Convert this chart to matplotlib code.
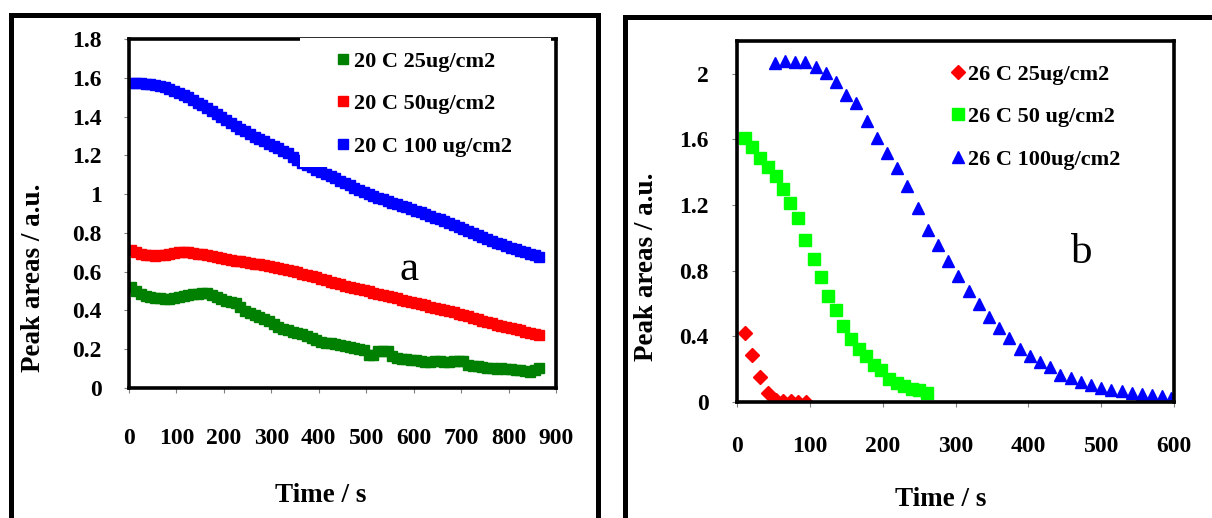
import matplotlib
matplotlib.use('Agg')
import matplotlib.pyplot as plt
from matplotlib.patches import Rectangle
from matplotlib.ticker import FuncFormatter

plt.rcParams['font.family'] = ['Liberation Serif', 'DejaVu Serif']
plt.rcParams['font.weight'] = 'bold'

# ---------------- Panel a data (20 C) ----------------
time_a = [5, 15, 25, 35, 45, 55, 65, 75, 85, 95,
          105, 115, 125, 135, 145, 155, 165, 175, 185, 195,
          205, 215, 225, 235, 245, 255, 265, 275, 285, 295,
          305, 315, 325, 335, 345, 355, 365, 375, 385, 395,
          405, 415, 425, 435, 445, 455, 465, 475, 485, 495,
          505, 515, 525, 535, 545, 555, 565, 575, 585, 595,
          605, 615, 625, 635, 645, 655, 665, 675, 685, 695,
          705, 715, 725, 735, 745, 755, 765, 775, 785, 795,
          805, 815, 825, 835, 845, 855, 865]

a_25 = [0.52, 0.50, 0.484, 0.475, 0.469, 0.466, 0.463, 0.461, 0.459, 0.463,
        0.467, 0.472, 0.478, 0.483, 0.487, 0.49, 0.489, 0.479, 0.47, 0.46,
        0.45, 0.444, 0.437, 0.42, 0.398, 0.385, 0.376, 0.368, 0.357, 0.343,
        0.328, 0.314, 0.306, 0.298, 0.29, 0.283, 0.277, 0.27, 0.258, 0.245,
        0.237, 0.233, 0.23, 0.226, 0.221, 0.216, 0.211, 0.205, 0.199, 0.194,
        0.168, 0.172, 0.19, 0.192, 0.19, 0.165, 0.155, 0.152, 0.149, 0.146,
        0.142, 0.139, 0.136, 0.135, 0.14, 0.137, 0.133, 0.136, 0.14, 0.141,
        0.138, 0.118, 0.114, 0.112, 0.109, 0.105, 0.102, 0.10, 0.101, 0.098,
        0.096, 0.094, 0.093, 0.09, 0.08, 0.095, 0.105]

a_50 = [0.71, 0.70, 0.692, 0.688, 0.686, 0.683, 0.684, 0.688, 0.693, 0.697,
        0.699, 0.70, 0.70, 0.697, 0.693, 0.689, 0.686, 0.681, 0.676, 0.67,
        0.665, 0.661, 0.657, 0.653, 0.65, 0.646, 0.642, 0.638, 0.633, 0.628,
        0.623, 0.617, 0.612, 0.607, 0.602, 0.596, 0.59, 0.584, 0.577, 0.571,
        0.564, 0.557, 0.549, 0.541, 0.534, 0.528, 0.522, 0.516, 0.51, 0.504,
        0.498, 0.492, 0.486, 0.48, 0.474, 0.468, 0.462, 0.456, 0.45, 0.444,
        0.438, 0.432, 0.426, 0.42, 0.414, 0.408, 0.402, 0.396, 0.39, 0.383,
        0.376, 0.369, 0.362, 0.355, 0.348, 0.341, 0.334, 0.327, 0.321, 0.315,
        0.309, 0.303, 0.297, 0.291, 0.285, 0.279, 0.274]

a_100 = [1.575, 1.575, 1.573, 1.57, 1.566, 1.562, 1.556, 1.55, 1.542, 1.533,
         1.523, 1.512, 1.50, 1.486, 1.472, 1.458, 1.444, 1.428, 1.412, 1.396,
         1.382, 1.368, 1.352, 1.338, 1.324, 1.31, 1.297, 1.286, 1.272, 1.26,
         1.248, 1.236, 1.224, 1.21, 1.19, 1.175, 1.162, 1.15, 1.138, 1.126,
         1.114, 1.102, 1.092, 1.081, 1.07, 1.058, 1.046, 1.034, 1.022, 1.01,
         1.0, 0.991, 0.982, 0.973, 0.965, 0.956, 0.948, 0.94, 0.932, 0.924,
         0.915, 0.906, 0.897, 0.888, 0.879, 0.870, 0.860, 0.850, 0.840, 0.830,
         0.820, 0.810, 0.800, 0.790, 0.780, 0.770, 0.760, 0.750, 0.741, 0.732,
         0.724, 0.716, 0.708, 0.700, 0.692, 0.684, 0.676]

labels_a = ["20 C 25ug/cm2", "20 C 50ug/cm2", "20 C 100 ug/cm2"]
colors_a = ["#008000", "#ff0000", "#0000ff"]

# ---------------- Panel b data (26 C) ----------------
time_b25 = [11, 21, 32, 42, 53, 63, 74, 84, 95]
b_25 = [0.42, 0.288, 0.152, 0.057, 0.012, 0.008, 0.005, 0.003, 0.0]

time_b50 = [11, 21, 32, 42, 53, 63, 73, 84, 94, 105, 115, 125, 136,
            146, 157, 167, 177, 188, 198, 209, 219, 229, 240, 250, 261]
b_50 = [1.611, 1.554, 1.489, 1.435, 1.378, 1.301, 1.212, 1.121, 0.989,
        0.871, 0.760, 0.648, 0.561, 0.462, 0.385, 0.324, 0.278, 0.223,
        0.193, 0.142, 0.115, 0.095, 0.081, 0.071, 0.057]

time_b100 = [52, 66, 80, 94, 108, 122, 136, 150, 164, 178,
             192, 206, 220, 234, 248, 262, 276, 290, 304, 318,
             332, 346, 360, 374, 388, 402, 416, 430, 444, 458,
             472, 486, 500, 514, 528, 542, 556, 570, 584, 596]
b_100 = [2.067, 2.081, 2.073, 2.071, 2.043, 2.006, 1.951, 1.874, 1.824, 1.712,
         1.611, 1.516, 1.425, 1.317, 1.185, 1.048, 0.956, 0.861, 0.770, 0.679,
         0.598, 0.517, 0.452, 0.391, 0.324, 0.278, 0.243, 0.213, 0.162, 0.146,
         0.122, 0.101, 0.087, 0.075, 0.067, 0.055, 0.047, 0.041, 0.034, 0.026]

labels_b = ["26 C 25ug/cm2", "26 C 50 ug/cm2", "26 C 100ug/cm2"]
colors_b = ["#ff0000", "#00ff00", "#0000ff"]

xticks_a = [0, 100, 200, 300, 400, 500, 600, 700, 800, 900]
yticks_a = [0, 0.2, 0.4, 0.6, 0.8, 1.0, 1.2, 1.4, 1.6, 1.8]
xticks_b = [0, 100, 200, 300, 400, 500, 600]
yticks_b = [0, 0.4, 0.8, 1.2, 1.6, 2.0]

# ---------------- Figure ----------------
fig = plt.figure(figsize=(12.12, 5.18), dpi=100)
axa = fig.add_axes([0.1064, 0.2510, 0.3523, 0.6737])
axb = fig.add_axes([0.6081, 0.2239, 0.3606, 0.6969])

fmt = FuncFormatter(lambda v, p: f"{v:g}")

def style(ax, xpad, ypad):
    for s in ax.spines.values():
        s.set_linewidth(2.6)
        s.set_color('black')
    ax.tick_params(direction='out', length=3.6, width=0.8, color='#808080',
                   labelsize=17, labelcolor='black')
    ax.tick_params(axis='x', pad=xpad)
    ax.tick_params(axis='y', pad=ypad)
    ax.yaxis.set_major_formatter(fmt)
    for lab in ax.get_xticklabels() + ax.get_yticklabels():
        lab.set_fontweight('bold')

# Panel a
for y, lab, c in zip([a_25, a_50, a_100], labels_a, colors_a):
    axa.plot(time_a, y, linestyle='none', marker='s', ms=6.5, color=c,
             mec=c, label=lab)
axa.set_xlim(0, 900)
axa.set_ylim(0, 1.8)
axa.set_xticks(xticks_a)
axa.set_yticks(yticks_a)
style(axa, 25.5, 16)
axa.set_xlabel("Time / s", fontsize=19.5, fontweight='bold')
axa.set_ylabel("Peak areas / a.u.", fontsize=19.5, fontweight='bold')
axa.xaxis.set_label_coords(0.45, -0.272)
axa.yaxis.set_label_coords(-0.194, 0.315)
axa.add_patch(Rectangle((0.400, 0.633), 0.588, 0.3698, transform=axa.transAxes,
                        facecolor='white', edgecolor='none', zorder=4, clip_on=False))
axa.legend(loc='upper left', bbox_to_anchor=(0.2753, 0.9015),
           bbox_transform=fig.transFigure, frameon=False, borderpad=0,
           borderaxespad=0, handlelength=0.8, handletextpad=0.1,
           labelspacing=0.99, numpoints=1, prop={'size': 16, 'weight': 'bold'})
axa.text(0.655, 0.34, "a", transform=axa.transAxes, fontsize=31,
         fontweight='normal', ha='center', va='center')

# Panel b
axb.plot(time_b25, b_25, linestyle='none', marker='D', ms=7,
         color=colors_b[0], label=labels_b[0])
axb.plot(time_b50, b_50, linestyle='none', marker='s', ms=8.6,
         color=colors_b[1], label=labels_b[1])
axb.plot(time_b100, b_100, linestyle='none', marker='^', ms=8.6,
         color=colors_b[2], label=labels_b[2])
axb.set_xlim(0, 600)
axb.set_ylim(0, 2.2)
axb.set_xticks(xticks_b)
axb.set_yticks(yticks_b)
style(axb, 21, 17)
axb.set_xlabel("Time / s", fontsize=19.5, fontweight='bold')
axb.set_ylabel("Peak areas / a.u.", fontsize=19.5, fontweight='bold')
axb.xaxis.set_label_coords(0.467, -0.236)
axb.yaxis.set_label_coords(-0.178, 0.374)
axb.legend(loc='upper left', bbox_to_anchor=(0.7828, 0.8764),
           bbox_transform=fig.transFigure, frameon=False, borderpad=0,
           borderaxespad=0, handlelength=0.8, handletextpad=0.05,
           labelspacing=0.99, numpoints=1, prop={'size': 16, 'weight': 'bold'})
axb.text(0.789, 0.413, "b", transform=axb.transAxes, fontsize=31,
         fontweight='normal', ha='center', va='center')

# Outer panel frames
fig.add_artist(Rectangle((0.00883, -0.2), 0.4846, 0.971 + 0.2,
                         transform=fig.transFigure, fill=False,
                         edgecolor='black', linewidth=3.6, clip_on=False))
fig.add_artist(Rectangle((0.5157, -0.2), 0.6, 0.9672 + 0.2,
                         transform=fig.transFigure, fill=False,
                         edgecolor='black', linewidth=3.6, clip_on=False))

fig.savefig("out.png", dpi=100)
